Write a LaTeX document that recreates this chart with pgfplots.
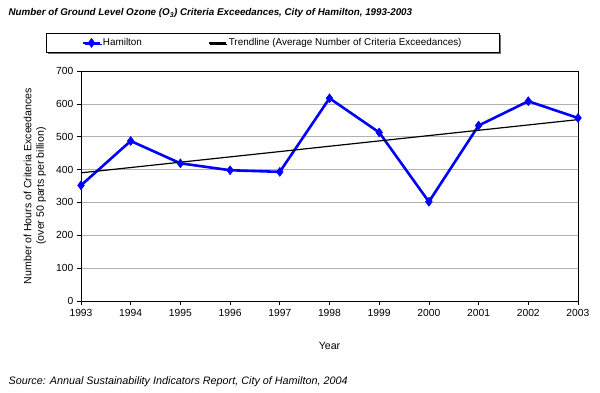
\documentclass[border=0pt]{standalone}
\usepackage{fontspec}
\setmainfont{Liberation Sans}
\usepackage{pgfplots}
\pgfplotsset{compat=1.18}
\usetikzlibrary{shadows}
\begin{document}
\fontsize{10.3bp}{12bp}\selectfont
\begin{tikzpicture}
\useasboundingbox (0,0) rectangle (600bp,393bp);
\node[anchor=west, font=\fontsize{9.8bp}{11bp}\selectfont\bfseries\itshape] at (5bp,380bp)
  {Number of Ground Level Ozone (O\textsubscript{3}) Criteria Exceedances, City of Hamilton, 1993-2003};
\node[anchor=west, font=\fontsize{10.8bp}{12bp}\selectfont\itshape] at (5bp,11bp)
  {Source: Annual Sustainability Indicators Report, City of Hamilton, 2004};
\begin{axis}[
  at={(81bp,92bp)}, anchor=south west,
  width=497bp, height=230bp, scale only axis,
  xmin=1993, xmax=2003, ymin=0, ymax=700,
  xtick={1993,...,2003}, ytick={0,100,...,700},
  xtick pos=bottom, ytick pos=left,
  /pgf/number format/1000 sep={},
  /pgf/number format/assume math mode=true,
  tick label style={font=\fontsize{10.3bp}{12bp}\selectfont},
  label style={font=\fontsize{10.6bp}{12.5bp}\selectfont},
  xticklabel style={yshift=-1bp},
  tick align=outside, major tick length=4bp,
  tick style={black, line width=0.6bp},
  axis line style={black, line width=0.8bp},
  ymajorgrids, grid style={gray!60, line width=0.6bp},
  xlabel={Year},
  xlabel style={at={(axis description cs:0.5,-0.196)}, anchor=center},
  ylabel={Number of Hours of Criteria Exceedances\\(over 50 parts per billion)},
  ylabel style={at={(axis description cs:-0.0926,0.5)}, anchor=center, align=center},
  legend columns=2,
  legend style={at={(0.386,1.122)}, anchor=center, draw=black, line width=0.6bp,
    fill=white,
    drop shadow={shadow xshift=1.5bp, shadow yshift=-1.5bp, fill=black!55, opacity=1},
    inner xsep=36bp, inner ysep=3.5bp,
    font=\fontsize{9.9bp}{11.5bp}\selectfont,
    /tikz/every even column/.append style={column sep=64bp}},
  legend image post style={line width=1.8bp},
  clip=false,
]
\addplot[blue, line width=2.6bp, mark=diamond*, mark size=4.5bp, mark options={line width=0.5bp}] coordinates {
(1993,352) (1994,487) (1995,419) (1996,398) (1997,393) (1998,617)
(1999,513) (2000,302) (2001,534) (2002,608) (2003,557)};
\addlegendentry{Hamilton}
\addplot[black, line width=1.2bp] coordinates {(1993,390) (2003,552)};
\addlegendentry{Trendline (Average Number of Criteria Exceedances)}
\end{axis}
\end{tikzpicture}
\end{document}
